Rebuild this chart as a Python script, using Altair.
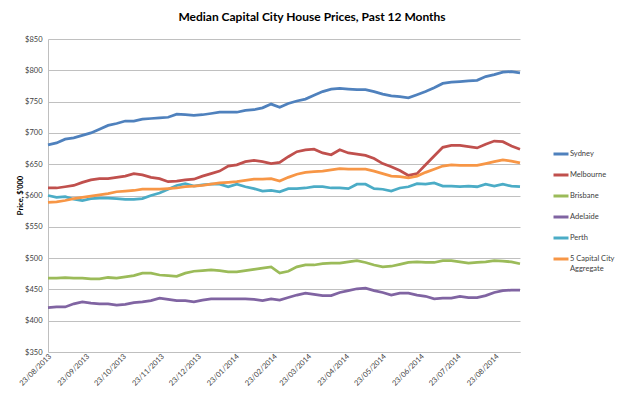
import altair as alt
import pandas as pd

series_names = ["Sydney", "Melbourne", "Brisbane", "Adelaide", "Perth", "5 Capital City Aggregate"]
series_colors = ["#4F81BD", "#C0504D", "#9BBB59", "#8064A2", "#4BACC6", "#F79646"]
start_date = "2013-08-23"

sydney = [681, 684, 690, 692, 696, 700, 706, 712, 715, 719, 719, 722, 723, 724, 725, 730, 729, 728, 729,
          731, 733, 733, 733, 736, 737, 740, 746, 741, 747, 751, 754, 760, 766, 770, 771, 770, 769,
          769, 766, 762, 759, 758, 756, 761, 766, 772, 779, 781, 782, 783, 784, 790, 793, 797, 798, 796]
melbourne = [612, 612, 614, 616, 621, 625, 627, 627, 629, 631, 635, 633, 629, 627, 622, 623, 625, 626, 631,
             635, 639, 647, 649, 654, 656, 654, 651, 653, 662, 670, 673, 674, 668, 665, 673, 668, 666,
             664, 659, 651, 646, 640, 632, 635, 649, 663, 677, 680, 680, 678, 676, 682, 687, 686, 679, 674]
brisbane = [468, 468, 469, 468, 468, 467, 467, 469, 468, 470, 472, 476, 476, 473, 472, 471, 476, 479, 480,
            481, 480, 478, 478, 480, 482, 484, 486, 476, 479, 486, 489, 489, 491, 492, 492, 494, 496,
            493, 489, 486, 487, 490, 493, 494, 493, 493, 496, 496, 494, 492, 493, 494, 496, 495, 494, 491]
adelaide = [421, 422, 422, 427, 430, 428, 427, 427, 425, 426, 429, 430, 432, 436, 434, 432, 432, 430, 433,
            435, 435, 435, 435, 435, 434, 432, 435, 433, 437, 441, 444, 442, 440, 440, 445, 448, 451,
            452, 448, 445, 441, 444, 444, 441, 439, 435, 436, 436, 439, 437, 437, 440, 445, 448, 449, 449]
perth = [600, 597, 598, 594, 592, 595, 596, 596, 595, 594, 594, 595, 600, 604, 610, 616, 619, 615, 617,
         618, 618, 614, 618, 614, 611, 607, 608, 606, 611, 611, 612, 614, 614, 612, 612, 611, 618,
         618, 611, 610, 607, 612, 614, 619, 618, 620, 615, 615, 614, 615, 614, 618, 615, 618, 615, 614]
aggregate = [589, 590, 592, 595, 597, 599, 601, 603, 606, 607, 608, 610, 610, 610, 611, 612, 614, 615, 616,
             618, 620, 621, 622, 624, 626, 626, 627, 623, 629, 634, 637, 638, 639, 641, 643, 642, 642,
             642, 639, 635, 631, 630, 628, 631, 637, 642, 647, 649, 648, 648, 648, 651, 654, 657, 655, 652]

tick_months = [(2013, 8), (2013, 9), (2013, 10), (2013, 11), (2013, 12), (2014, 1), (2014, 2),
               (2014, 3), (2014, 4), (2014, 5), (2014, 6), (2014, 7), (2014, 8)]
y_ticks = [350, 400, 450, 500, 550, 600, 650, 700, 750, 800, 850]

dates = pd.date_range(start_date, periods=len(sydney), freq="7D").strftime("%Y-%m-%d")
rows = []
for order, (name, vals) in enumerate(zip(series_names, [sydney, melbourne, brisbane, adelaide, perth, aggregate])):
    for d, v in zip(dates, vals):
        rows.append({"date": d, "city": name, "price": v, "ord": order})
df = pd.DataFrame(rows)

FONT = "Lato"
label_expr = "datum.label == '5 Capital City Aggregate' ? ['5 Capital City', 'Aggregate'] : datum.label"

chart = alt.Chart(df).mark_line(strokeWidth=2.75, interpolate="linear").encode(
    x=alt.X("date:T",
            scale=alt.Scale(type="utc", nice=False,
                            domain=[alt.DateTime(year=2013, month=8, date=23, utc=True),
                                    alt.DateTime(year=2014, month=9, date=12, utc=True)]),
            axis=alt.Axis(title=None, grid=False, ticks=False,
                          values=[alt.DateTime(year=y, month=m, date=23, utc=True) for y, m in tick_months],
                          labelExpr="utcFormat(datum.value, '%d/%m/%Y')",
                          labelAngle=315, labelAlign="right", labelBaseline="middle",
                          labelPadding=3, labelOffset=2, labelFontSize=7.5, labelFont=FONT,
                          labelColor="#404040", domainColor="#bfbfbf", labelOverlap=False)),
    y=alt.Y("price:Q",
            scale=alt.Scale(domain=[350, 850], nice=False, zero=False),
            axis=alt.Axis(values=y_ticks, format="$.0f", title="Price, $'000",
                          grid=True, gridColor="#c0c0c0", ticks=False, domainColor="#bfbfbf",
                          labelFontSize=7.5, labelFont=FONT, labelColor="#404040", labelPadding=6,
                          titleFont=FONT, titleFontSize=7.5, titleFontWeight="bold", titleColor="#000000",
                          titleAngle=270, titleX=-28, titleY=156, titleAlign="center",
                          titleBaseline="middle")),
    color=alt.Color("city:N",
                    scale=alt.Scale(domain=series_names, range=series_colors),
                    legend=alt.Legend(orient="none", legendX=504, legendY=106, title=None,
                                      symbolType="stroke", symbolSize=225, symbolStrokeWidth=3,
                                      rowPadding=6, labelFontSize=7.5, labelFont=FONT,
                                      labelColor="#404040", labelOffset=0, labelLimit=200,
                                      labelExpr=label_expr)),
    order=alt.Order("ord:Q"),
).properties(
    width=472,
    height=313,
    autosize=alt.AutoSizeParams(type="none"),
    padding={"left": 40, "top": 31, "right": 97, "bottom": 50},
    title=alt.TitleParams("Median Capital City House Prices, Past 12 Months",
                          font=FONT, fontSize=12, fontWeight="bold", color="#000000",
                          anchor="middle", dx=28, offset=11.5),
).configure_view(stroke=None)

chart.save("out.html", embed_options={"renderer": "svg", "actions": False})
